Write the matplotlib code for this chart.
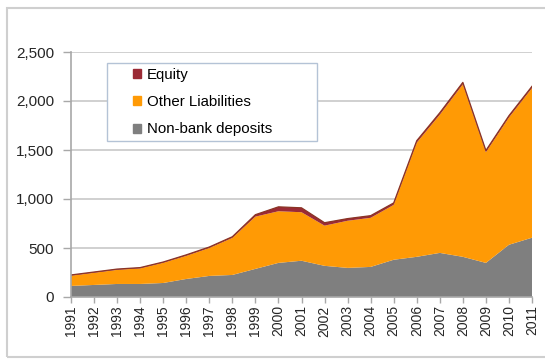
import matplotlib
matplotlib.use("Agg")
import matplotlib.pyplot as plt
import numpy as np
from matplotlib.patches import Patch, Rectangle

plt.rcParams['font.family'] = ['Liberation Sans', 'DejaVu Sans']

years = list(range(1991, 2012))
deposits = [113, 123, 133, 133, 143, 184, 215, 225, 287, 348, 370,
            318, 297, 307, 380, 410, 450, 410, 348, 533, 605]
other = [104, 124, 144, 159, 206, 236, 285, 378, 533, 527, 495,
         410, 481, 501, 560, 1165, 1410, 1760, 1129, 1299, 1527]
equity = [8, 8, 8, 8, 8, 10, 10, 12, 20, 45, 45,
          30, 22, 22, 20, 20, 20, 20, 18, 18, 18]

labels = ["Non-bank deposits", "Other Liabilities", "Equity"]
colours = ["#7f7f7f", "#ff9a05", "#9b2a35"]

W, H = 545, 360
fig = plt.figure(figsize=(W / 100, H / 100), dpi=100)
ax = fig.add_axes([71 / W, 1 - 297 / H, (532 - 71) / W, (297 - 52) / H])

ax.stackplot(years, deposits, other, equity, colors=colours, linewidth=0)
# thin dark rim along the top of the stack
top = np.array(deposits) + np.array(other) + np.array(equity)
ax.plot(years, top, color="#8a3424", linewidth=0.9)

ax.set_xlim(1991, 2011)
ax.set_ylim(0, 2500)
ax.set_yticks(range(0, 2501, 500))
ax.set_yticklabels([f"{v:,}" for v in range(0, 2501, 500)])
ax.set_xticks(years)
ax.set_xticklabels([str(y) for y in years], rotation=90)

ax.yaxis.grid(True, color="#c8c8c8", linewidth=1.2)
ax.set_axisbelow(True)
for s in ("top", "right"):
    ax.spines[s].set_visible(False)
for s in ("left", "bottom"):
    ax.spines[s].set_color("#a8a8a8")
    ax.spines[s].set_linewidth(1.2)

ax.tick_params(axis="y", length=6, width=1, color="#a8a8a8", pad=6,
               labelsize=11, labelcolor="#262626")
ax.tick_params(axis="x", length=4, width=1, color="#a8a8a8", pad=2,
               labelsize=10, labelcolor="#262626")

# legend box drawn separately so the entries can sit indented inside it
fig.patches.append(Rectangle((107 / W, 1 - 141 / H), 210 / W, 78 / H,
                             transform=fig.transFigure, facecolor="white",
                             edgecolor="#b4c3d6", linewidth=1, zorder=3))
handles = [Patch(color=c) for c in colours[::-1]]
leg = fig.legend(handles, labels[::-1], loc="upper left",
                 bbox_to_anchor=(133 / W, 1 - 68 / H), frameon=False,
                 fontsize=10.8, handlelength=0.55, handleheight=0.55,
                 handletextpad=0.4, labelspacing=0.88,
                 borderpad=0, borderaxespad=0)
leg.set_zorder(4)

# outer border of the panel
fig.patches.append(Rectangle((7 / W, 1 - 357 / H), 560 / W, 349 / H,
                             transform=fig.transFigure, fill=False,
                             edgecolor="#cfcfcf", linewidth=1.5))

fig.savefig("out.png", dpi=100)
